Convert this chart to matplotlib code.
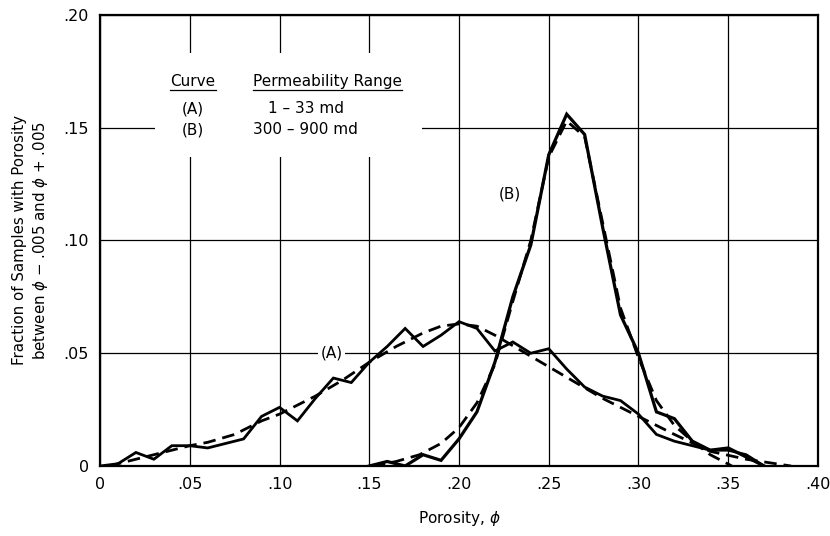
import matplotlib
matplotlib.use("Agg")
import matplotlib.pyplot as plt
from matplotlib.patches import Rectangle
import numpy as np

# porosity class midpoints, 0.01 apart
phi_a = [0.00, 0.01, 0.02, 0.03, 0.04, 0.05, 0.06, 0.07, 0.08, 0.09,
         0.10, 0.11, 0.12, 0.13, 0.14, 0.15, 0.16, 0.17, 0.18, 0.19,
         0.20, 0.21, 0.22, 0.23, 0.24, 0.25, 0.26, 0.27, 0.28, 0.29,
         0.30, 0.31, 0.32, 0.33, 0.34, 0.35, 0.36, 0.37]
frac_a = [0.000, 0.001, 0.006, 0.003, 0.009, 0.009, 0.008, 0.010, 0.012, 0.022,
          0.026, 0.020, 0.030, 0.039, 0.037, 0.046, 0.053, 0.061, 0.053, 0.058,
          0.064, 0.061, 0.051, 0.055, 0.050, 0.052, 0.043, 0.035, 0.031, 0.029,
          0.023, 0.014, 0.011, 0.009, 0.007, 0.007, 0.005, 0.000]

phi_b = [0.15, 0.16, 0.17, 0.18, 0.19, 0.20, 0.21, 0.22, 0.23, 0.24,
         0.25, 0.26, 0.27, 0.28, 0.29, 0.30, 0.31, 0.32, 0.33, 0.34,
         0.35, 0.36, 0.37]
frac_b = [0.000, 0.002, 0.000, 0.005, 0.0025, 0.012, 0.024, 0.046, 0.075, 0.098,
          0.138, 0.156, 0.147, 0.106, 0.067, 0.050, 0.024, 0.021, 0.011, 0.007,
          0.008, 0.004, 0.000]

# smoothed (fitted) curves
fit_phi_a = [0.005, 0.02, 0.035, 0.05, 0.06, 0.075, 0.09, 0.10, 0.12, 0.135,
             0.15, 0.165, 0.18, 0.19, 0.20, 0.21, 0.22, 0.235, 0.25, 0.265,
             0.28, 0.29, 0.30, 0.32, 0.34, 0.36, 0.385]
fit_frac_a = [0.000, 0.003, 0.006, 0.009, 0.0105, 0.014, 0.020, 0.023, 0.031, 0.038,
              0.046, 0.053, 0.059, 0.062, 0.063, 0.062, 0.058, 0.051, 0.044, 0.037,
              0.030, 0.026, 0.022, 0.014, 0.0065, 0.003, 0.000]

fit_phi_b = [0.152, 0.165, 0.178, 0.19, 0.20, 0.21, 0.22, 0.23, 0.24, 0.25,
             0.26, 0.27, 0.28, 0.29, 0.30, 0.31, 0.32, 0.33, 0.34, 0.352]
fit_frac_b = [0.000, 0.002, 0.005, 0.010, 0.017, 0.028, 0.045, 0.073, 0.100, 0.137,
              0.153, 0.146, 0.108, 0.070, 0.048, 0.029, 0.018, 0.011, 0.005, 0.000]

curve_labels = ["(A)", "(B)"]
perm_ranges = ["1 \u2013 33 md", "300 \u2013 900 md"]

xticks = [0, 0.05, 0.10, 0.15, 0.20, 0.25, 0.30, 0.35, 0.40]
xtick_labels = ["0", ".05", ".10", ".15", ".20", ".25", ".30", ".35", ".40"]
yticks = [0, 0.05, 0.10, 0.15, 0.20]
ytick_labels = ["0", ".05", ".10", ".15", ".20"]

plt.rcParams["font.family"] = ["DejaVu Sans"]

fig = plt.figure(figsize=(8.3, 5.36), dpi=100)
ax = fig.add_axes([0.1205, 0.1306, 0.865, 0.8415])

ax.set_xlim(0, 0.40)
ax.set_ylim(0, 0.20)
ax.set_xticks(xticks)
ax.set_xticklabels(xtick_labels)
ax.set_yticks(yticks)
ax.set_yticklabels(ytick_labels)
ax.tick_params(length=0, labelsize=11.5, pad=8)
ax.grid(True, color="black", linewidth=0.9, zorder=1)
ax.set_axisbelow(True)
for s in ax.spines.values():
    s.set_linewidth(1.6)

# measured distributions
ax.plot(phi_a, frac_a, color="black", lw=2.0, zorder=3, solid_joinstyle="miter")
ax.plot(phi_b, frac_b, color="black", lw=2.3, zorder=3, solid_joinstyle="miter")
# fitted curves
ax.plot(fit_phi_a, fit_frac_a, color="black", lw=2.0, ls=(0, (4.5, 2.5)), zorder=3)
ax.plot(fit_phi_b, fit_frac_b, color="black", lw=2.0, ls=(0, (4.5, 2.5)), zorder=3)

# white panel behind the key, breaking the grid
ax.add_patch(Rectangle((0.0306, 0.137), 0.1488, 0.046, facecolor="white",
                       edgecolor="none", zorder=2))

kfs = 11
hdr1 = ax.text(0.0518, 0.1705, "Curve", ha="center", va="center", fontsize=kfs, zorder=4)
hdr2 = ax.text(0.1265, 0.1705, "Permeability Range", ha="center", va="center",
               fontsize=kfs, zorder=4)
rows_y = [0.1585, 0.1490]
for lab, rng, yy in zip(curve_labels, perm_ranges, rows_y):
    ax.text(0.0515, yy, lab, ha="center", va="center", fontsize=kfs, zorder=4)
    ax.text(0.1145, yy, rng, ha="center", va="center", fontsize=kfs, zorder=4)

# underline the key headings
fig.canvas.draw()
inv = ax.transData.inverted()
for t in (hdr1, hdr2):
    bb = t.get_window_extent()
    x0, y0 = inv.transform((bb.x0, bb.y0 - 1))
    x1, _ = inv.transform((bb.x1, bb.y0 - 1))
    ax.plot([x0, x1], [y0, y0], color="black", lw=0.9, zorder=4)

ax.text(0.129, 0.050, "(A)", ha="center", va="center", fontsize=kfs, zorder=4,
        bbox=dict(facecolor="white", edgecolor="none", pad=2.0))
ax.text(0.2284, 0.1206, "(B)", ha="center", va="center", fontsize=kfs, zorder=4)

ax.set_xlabel("Porosity, $\\phi$", fontsize=11, labelpad=12)
ax.set_ylabel("Fraction of Samples with Porosity\nbetween $\\phi$ \u2212 .005 and $\\phi$ + .005",
              fontsize=10.8, labelpad=10, linespacing=1.25)

fig.savefig("out.png", dpi=100, facecolor="white")
